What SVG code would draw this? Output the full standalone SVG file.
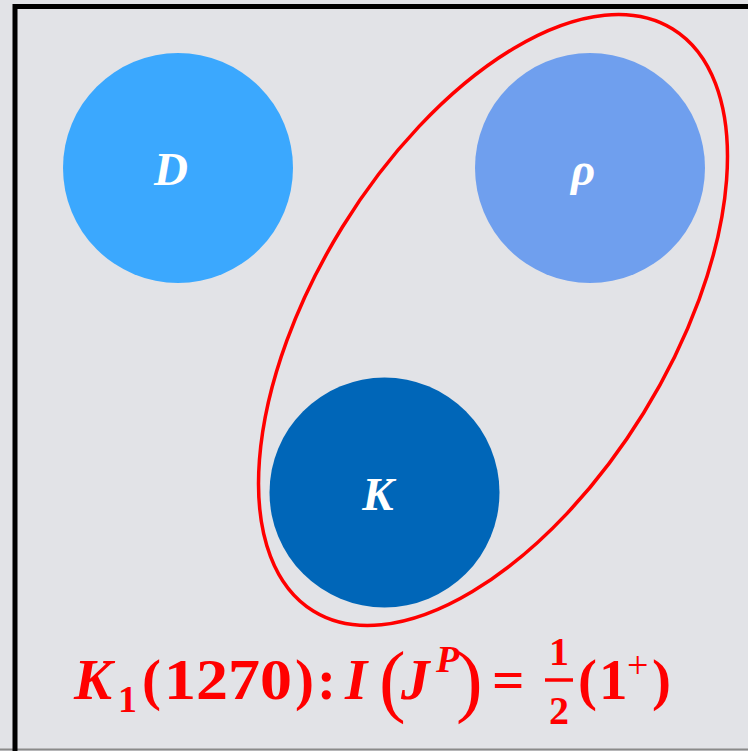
<svg xmlns="http://www.w3.org/2000/svg" width="748" height="751" viewBox="0 0 748 751">
  <style>
    .node-label { font-family: "Liberation Serif", "DejaVu Serif", serif; font-weight: bold; font-style: italic; font-size: 47px; fill: #ffffff; text-anchor: middle; }
    .formula { font-family: "Liberation Serif", "DejaVu Serif", serif; font-weight: bold; fill: #ff0000; }
    .it { font-style: italic; }
    .thin { font-weight: normal; }
  </style>
  <rect x="0" y="0" width="748" height="751" fill="#e2e3e7"/>
  <line x1="0" y1="749.5" x2="748" y2="749.5" stroke="#8a8a8a" stroke-width="2"/>
  <path d="M15,751 V6.5 H748" fill="none" stroke="#000000" stroke-width="5"/>

  <g id="node-D">
    <circle cx="178" cy="168" r="115" fill="#3ba8fe"/>
    <text class="node-label" x="171" y="185">D</text>
  </g>
  <g id="node-rho">
    <circle cx="590" cy="168" r="115" fill="#6f9fee"/>
    <text class="node-label" x="583" y="185">ρ</text>
  </g>
  <g id="node-K">
    <circle cx="384.5" cy="492.5" r="115" fill="#0066b8"/>
    <text class="node-label" x="378" y="510">K</text>
  </g>

  <g id="connectors">
    <ellipse cx="493" cy="320" rx="342" ry="177" fill="none" stroke="#ff0000" stroke-width="3.5" transform="rotate(-58.3 493 320)"/>
  </g>

  <g id="formula">
    <text class="formula" font-size="57"><tspan class="it" x="74" y="699">K</tspan><tspan x="118" y="712" font-size="38">1</tspan><tspan x="142" y="699">(</tspan><tspan x="164" y="699" textLength="128" lengthAdjust="spacingAndGlyphs">1270</tspan><tspan x="295" y="699">)</tspan><tspan x="317" y="699">:</tspan><tspan class="it" x="345" y="699">I</tspan></text>
    <text class="formula thin" font-size="80" x="379" y="707">(</text>
    <text class="formula it" font-size="57" x="401" y="699">J</text>
    <text class="formula it" font-size="38" x="436" y="672">P</text>
    <text class="formula thin" font-size="80" x="456" y="707">)</text>
    <text class="formula" font-size="57" x="492" y="699">=</text>
    <text class="formula" font-size="40" x="559" y="665" text-anchor="middle">1</text>
    <line x1="545" y1="680" x2="573" y2="680" stroke="#ff0000" stroke-width="3.5"/>
    <text class="formula" font-size="40" x="559" y="724" text-anchor="middle">2</text>
    <text class="formula" font-size="57"><tspan x="578" y="699">(</tspan><tspan x="599" y="699">1</tspan><tspan class="thin" x="627" y="678" font-size="38">+</tspan><tspan x="652" y="699">)</tspan></text>
  </g>
</svg>
